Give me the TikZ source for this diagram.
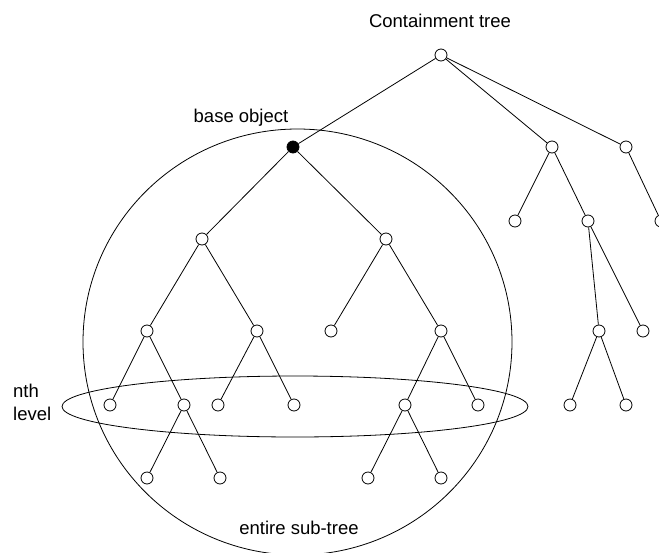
\documentclass[tikz,border=0pt]{standalone}
\usepackage{fontspec}
\setmainfont{Liberation Sans}
\begin{document}
\begin{tikzpicture}[x=1pt,y=-1pt,
  tn/.style={circle,draw,fill=white,line width=0.8pt,minimum size=12pt,inner sep=0pt},
  bn/.style={tn,fill=black},
  ed/.style={line width=0.8pt},
  lbl/.style={font=\fontsize{18.5}{23}\selectfont,inner sep=0pt}]
\useasboundingbox (0,0) rectangle (659,552);
% enclosing shapes
\draw[ed] (297.5,342) ellipse [x radius=214.5, y radius=213];
\draw[ed] (295,406.5) ellipse [x radius=233, y radius=30.5];
% nodes
\node[tn] (root) at (441,55) {};
\node[bn] (b) at (293,147) {};
\node[tn] (r2) at (552,147) {};
\node[tn] (r3) at (626,147) {};
\node[tn] (r21) at (515,221) {};
\node[tn] (r22) at (588,221) {};
\node[tn] (r31) at (661,221) {};
\node[tn] (r221) at (599,331) {};
\node[tn] (r222) at (643,331) {};
\node[tn] (r2211) at (570,405) {};
\node[tn] (r2212) at (626,405) {};
\node[tn] (b1) at (202,239) {};
\node[tn] (b2) at (386,239) {};
\node[tn] (b11) at (147,331) {};
\node[tn] (b12) at (257,331) {};
\node[tn] (b21) at (331,331) {};
\node[tn] (b22) at (441,331) {};
\node[tn] (b111) at (110,405) {};
\node[tn] (b112) at (184,405) {};
\node[tn] (b121) at (218,405) {};
\node[tn] (b122) at (294,405) {};
\node[tn] (b221) at (405,405) {};
\node[tn] (b222) at (478,405) {};
\node[tn] (b1121) at (147,478) {};
\node[tn] (b1122) at (220,478) {};
\node[tn] (b2211) at (368,478) {};
\node[tn] (b2212) at (441,478) {};
% edges
\foreach \p/\c in {root/b,root/r2,root/r3,r2/r21,r2/r22,r3/r31,r22/r221,r22/r222,
  r221/r2211,r221/r2212,b/b1,b/b2,b1/b11,b1/b12,b2/b21,b2/b22,b11/b111,b11/b112,
  b12/b121,b12/b122,b22/b221,b22/b222,b112/b1121,b112/b1122,b221/b2211,b221/b2212}
  \draw[ed] (\p) -- (\c);
% labels
\node[lbl,anchor=base] (title) at (440,27) {Containment tree};
\node[lbl,anchor=base] (baselbl) at (241,122) {base object};
\node[lbl,anchor=base west,align=left] (nth) at (13,397) {nth};
\node[lbl,anchor=base west,align=left] (lvl) at (13,420) {level};
\node[lbl,anchor=base] (entire) at (299,534) {entire sub-tree};
\end{tikzpicture}
\end{document}
